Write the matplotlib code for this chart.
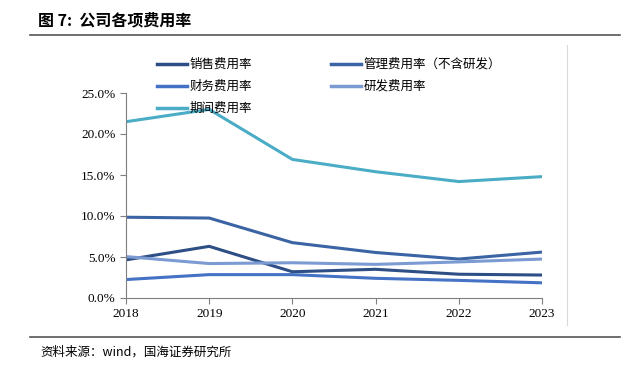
import matplotlib
matplotlib.use('Agg')
import matplotlib.pyplot as plt
from matplotlib.lines import Line2D

plt.rcParams['font.family'] = ['Noto Sans CJK SC', 'DejaVu Sans']

years = ['2018', '2019', '2020', '2021', '2022', '2023']
sales = [4.65, 6.3, 3.2, 3.5, 2.9, 2.8]
admin = [9.85, 9.75, 6.75, 5.55, 4.75, 5.6]
finance = [2.25, 2.85, 2.85, 2.4, 2.15, 1.85]
rnd = [5.05, 4.2, 4.3, 4.1, 4.4, 4.75]
period = [21.5, 23.0, 16.9, 15.4, 14.2, 14.8]

names = ['销售费用率', '管理费用率（不含研发）', '财务费用率', '研发费用率', '期间费用率']
series = [sales, admin, finance, rnd, period]
colors = ['#2d4f86', '#3a64a3', '#4472c4', '#7c9bd2', '#4bacc6']

fig = plt.figure(figsize=(6.26, 3.78), dpi=100)
ax = fig.add_axes([126 / 626, 80 / 378, 416 / 626, 205 / 378])

x = list(range(len(years)))
for vals, c in zip(series, colors):
    ax.plot(x, vals, color=c, lw=2.2, solid_capstyle='butt')

ax.set_xlim(0, len(years) - 1)
ax.set_ylim(0, 25)
ax.set_yticks([0, 5, 10, 15, 20, 25])
ax.set_yticklabels([f'{v:.1f}%' for v in [0, 5, 10, 15, 20, 25]],
                   family='Liberation Serif', fontsize=9.5)
ax.set_xticks(x)
ax.set_xticklabels(years, family='Liberation Serif', fontsize=9.5)
ax.tick_params(axis='both', length=4, width=0.8, color='#7f7f7f', direction='out')
for s in ['top', 'right']:
    ax.spines[s].set_visible(False)
for s in ['left', 'bottom']:
    ax.spines[s].set_color('#7f7f7f')
    ax.spines[s].set_linewidth(0.8)

# legend (two columns, row-major order)
handles = [Line2D([0], [0], color=c, lw=2.5) for c in colors]
order = [0, 2, 4, 1, 3]
leg = fig.legend([handles[i] for i in order], [names[i] for i in order],
                 ncol=2, loc='upper left', bbox_to_anchor=(152 / 626, 1 - 53 / 378),
                 frameon=False, fontsize=9, handlelength=2.4, handletextpad=0.2,
                 columnspacing=6.3, labelspacing=0.72, borderaxespad=0)

# title, rules, source
fig.text(38 / 626, 1 - 20 / 378, '图 7:  公司各项费用率', fontsize=11.5, fontweight='bold',
         va='center', ha='left')
fig.add_artist(Line2D([30 / 626, 620 / 626], [1 - 35 / 378] * 2, color='#555555', lw=1.2))
fig.add_artist(Line2D([30 / 626, 620 / 626], [1 - 337 / 378] * 2, color='#555555', lw=1.2))
fig.add_artist(Line2D([567 / 626, 567 / 626], [1 - 45 / 378, 1 - 325 / 378], color='#d9d9d9', lw=0.8))
fig.text(40 / 626, 1 - 352 / 378, '资料来源：wind，国海证券研究所', fontsize=9,
         va='center', ha='left')

fig.savefig('out.png', dpi=100)
